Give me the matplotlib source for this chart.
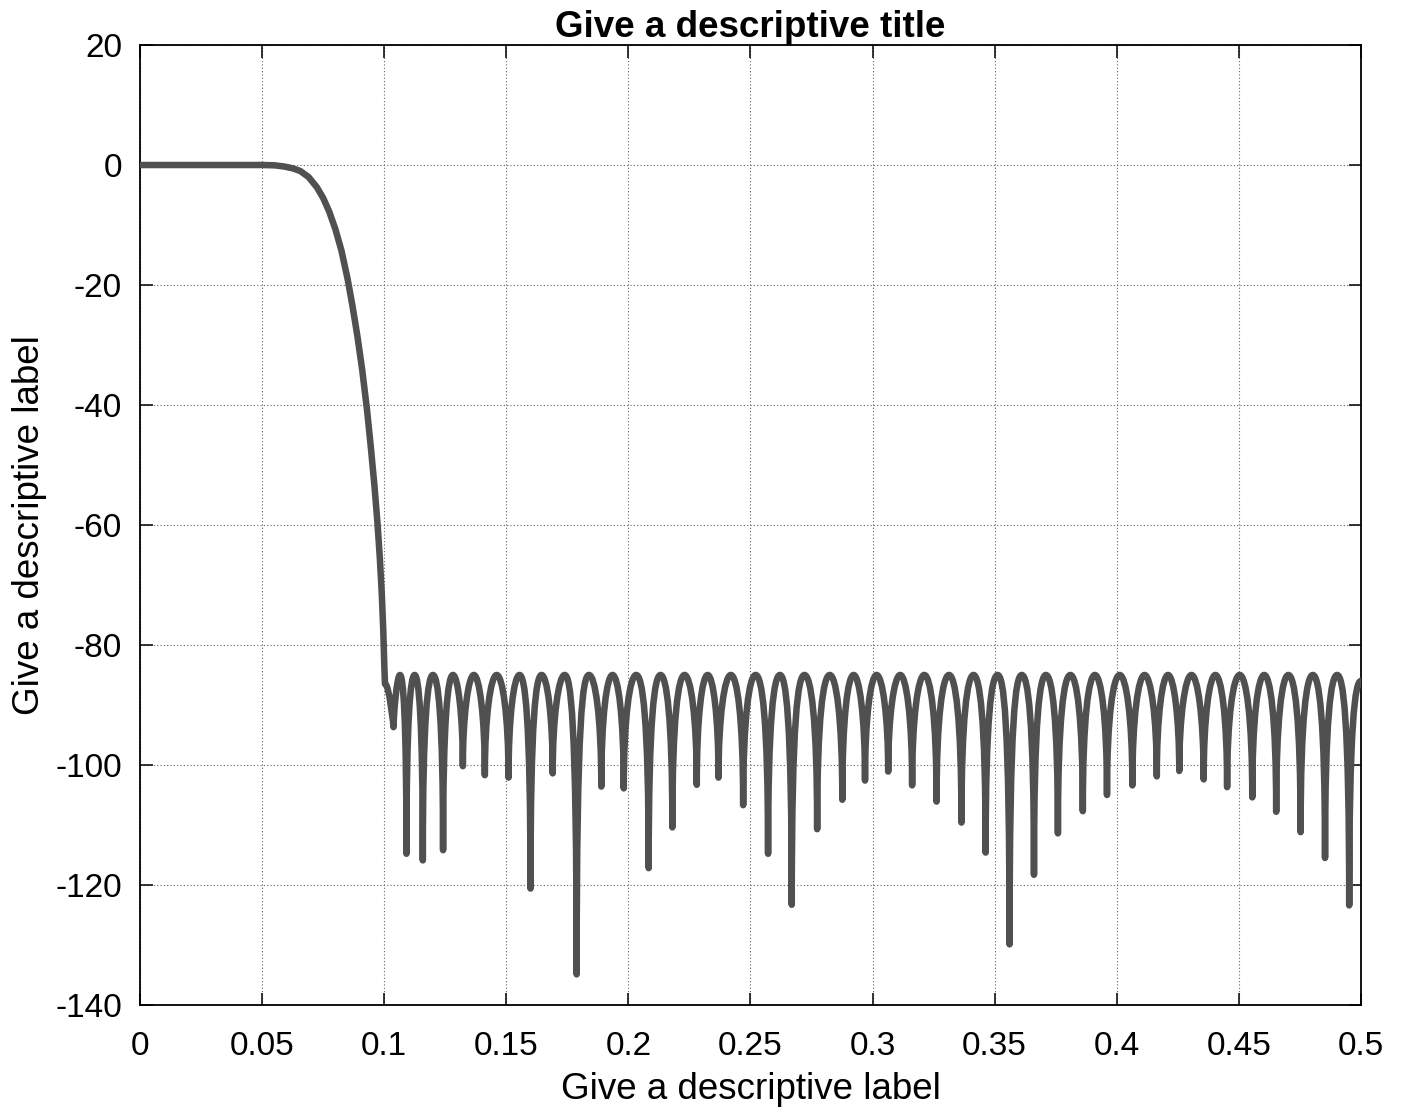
import matplotlib.pyplot as plt
from matplotlib.path import Path
from matplotlib.patches import PathPatch

plt.rcParams['font.family'] = ['Liberation Sans', 'DejaVu Sans']

# passband + transition band
trans_freq = [0.0, 0.050, 0.055, 0.059, 0.0625, 0.0656, 0.069, 0.0724, 0.075, 0.0775,
              0.080, 0.0825, 0.085, 0.087, 0.089, 0.091, 0.093, 0.0945, 0.096, 0.0972,
              0.0982, 0.099, 0.0996, 0.1000, 0.1003]
trans_db = [0.0, 0.0, -0.05, -0.25, -0.55, -1.0, -2.0, -3.7, -5.5, -7.8,
            -10.7, -14.3, -19.0, -23.5, -28.5, -34.2, -41.0, -47.0, -53.5, -59.5,
            -65.5, -71.5, -77.5, -83.0, -86.5]

# stopband nulls (frequency, depth in dB)
null_freq = [0.1038, 0.1091, 0.1158, 0.1241, 0.1322, 0.1412, 0.1509, 0.1599, 0.1690,
             0.1788, 0.1889, 0.1981, 0.2083, 0.2180, 0.2280, 0.2369, 0.2470, 0.2572,
             0.2669, 0.2773, 0.2876, 0.2969, 0.3064, 0.3162, 0.3262, 0.3364, 0.3463,
             0.3561, 0.3661, 0.3759, 0.3861, 0.3960, 0.4064, 0.4164, 0.4256, 0.4356,
             0.4452, 0.4555, 0.4653, 0.4753, 0.4853, 0.4952]
null_db = [-93.7, -114.8, -115.9, -114.2, -100.2, -101.7, -102.1, -120.6, -101.4,
           -134.9, -103.6, -103.9, -117.2, -110.4, -103.3, -102.1, -106.7, -114.8,
           -123.3, -110.7, -105.8, -102.6, -101.1, -103.4, -106.1, -109.6, -114.6,
           -129.9, -118.3, -111.4, -107.7, -105.0, -103.4, -101.9, -101.0, -102.4,
           -103.7, -105.4, -107.8, -111.2, -115.5, -123.4]

ripple_peak_db = -85.0   # equiripple level of the stopband lobes
end_freq, end_db = 0.5, -86.0

x_ticks = [0, 0.05, 0.1, 0.15, 0.2, 0.25, 0.3, 0.35, 0.4, 0.45, 0.5]
x_tick_labels = ['0', '0.05', '0.1', '0.15', '0.2', '0.25', '0.3', '0.35', '0.4', '0.45', '0.5']
y_ticks = [-140, -120, -100, -80, -60, -40, -20, 0, 20]
y_tick_labels = ['-140', '-120', '-100', '-80', '-60', '-40', '-20', '0', '20']

line_color = '#505050'


# lobe halves as cubic beziers: vertical flank at the null, flat top at the peak
def falling(x0, y0, x1, y1):
    shoulder = max(y1, y0 - 7)
    return [(x0 + 0.5 * (x1 - x0), y0), (x1, shoulder), (x1, y1)]


def rising(x0, y0, x1, y1):
    shoulder = max(y0, y1 - 7)
    return [(x0, shoulder), (x0 + 0.5 * (x1 - x0), y1), (x1, y1)]


verts = [(trans_freq[0], trans_db[0])]
codes = [Path.MOVETO]
for f, d in zip(trans_freq[1:], trans_db[1:]):
    verts.append((f, d))
    codes.append(Path.LINETO)

verts += falling(trans_freq[-1], trans_db[-1], null_freq[0], null_db[0])
codes += [Path.CURVE4] * 3
for i in range(len(null_freq) - 1):
    xp = 0.5 * (null_freq[i] + null_freq[i + 1])
    verts += rising(null_freq[i], null_db[i], xp, ripple_peak_db)
    verts += falling(xp, ripple_peak_db, null_freq[i + 1], null_db[i + 1])
    codes += [Path.CURVE4] * 6
verts += rising(null_freq[-1], null_db[-1], end_freq, end_db)
codes += [Path.CURVE4] * 3

fig = plt.figure(figsize=(14.02, 11.17), dpi=100)
ax = fig.add_axes([0.0999, 0.1003, 0.8708, 0.8594])

ax.add_patch(PathPatch(Path(verts, codes), fill=False, edgecolor=line_color,
                       linewidth=4.7, capstyle='round', joinstyle='round', zorder=3))

ax.set_xlim(0, 0.5)
ax.set_ylim(-140, 20)
ax.set_xticks(x_ticks)
ax.set_xticklabels(x_tick_labels)
ax.set_yticks(y_ticks)
ax.set_yticklabels(y_tick_labels)

ax.grid(True, linestyle=(0, (1, 2)), color='0.4', linewidth=0.8)
ax.set_axisbelow(True)
ax.tick_params(direction='in', top=True, right=True, length=9, width=1.1,
               labelsize=24, pad=13)
ax.tick_params(axis='x', pad=19)
for s in ax.spines.values():
    s.set_linewidth(1.3)

ax.set_title('Give a descriptive title', fontsize=26.5, fontweight='bold', pad=6)
ax.set_xlabel('Give a descriptive label', fontsize=26.5, labelpad=7)
ax.set_ylabel('Give a descriptive label', fontsize=26.5, labelpad=6)

fig.savefig('out.png', dpi=100)
plt.close(fig)
